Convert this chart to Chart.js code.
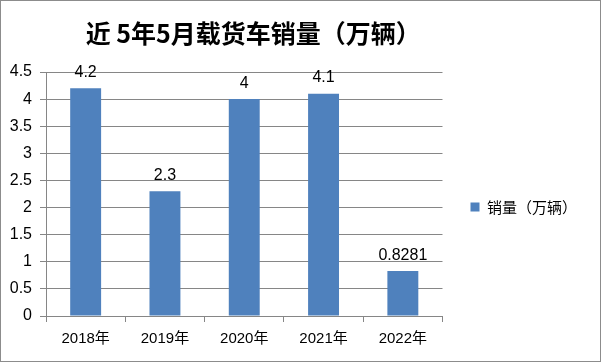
<!DOCTYPE html>
<html>
<head>
<meta charset="utf-8">
<script src="https://cdn.jsdelivr.net/npm/chart.js@4"></script>
<style>
    body { margin: 0; background: #fff; }
    #wrapper { width: 601px; height: 362px; box-sizing: border-box; border: 1px solid #8c8c8c; }
</style>
</head>
<body>
<div id="wrapper"><canvas id="chart" width="599" height="360"></canvas></div>
<script>
const years = ['2018年', '2019年', '2020年', '2021年', '2022年'];
const sales = [4.2, 2.3, 4, 4.1, 0.8281];
const seriesName = '销量（万辆）';
const titleText = '近 5年5月载货车销量（万辆）';

const latinFont = "'Liberation Sans', 'Noto Sans CJK SC', sans-serif";
const cjkFont = "'Noto Sans CJK SC', sans-serif";
const gridColor = '#868686';

// value labels above each bar
const valueLabels = {
    id: 'valueLabels',
    afterDatasetsDraw(chart) {
        const ctx = chart.ctx;
        const meta = chart.getDatasetMeta(0);
        ctx.save();
        ctx.font = '16px ' + latinFont;
        ctx.fillStyle = '#000';
        ctx.textAlign = 'center';
        ctx.textBaseline = 'middle';
        meta.data.forEach((bar, i) => {
            ctx.fillText(String(sales[i]), bar.x, bar.y - 16);
        });
        ctx.restore();
    }
};

// nudge title and legend to where the reference has them
const nudge = {
    id: 'nudge',
    afterLayout(chart) {
        chart.titleBlock.left += 9;
        chart.titleBlock.right += 9;
        chart.legend.top += 26;
        chart.legend.bottom += 26;
    }
};

new Chart(document.getElementById('chart'), {
    type: 'bar',
    data: {
        labels: years,
        datasets: [{
            label: seriesName,
            data: sales,
            backgroundColor: '#4F81BD',
            barPercentage: 0.39,
            categoryPercentage: 1
        }]
    },
    options: {
        responsive: false,
        animation: false,
        layout: { padding: { right: 13 } },
        plugins: {
            title: {
                display: true,
                text: titleText,
                fullSize: false,
                color: '#000',
                font: { family: cjkFont, size: 25, weight: 'bold', lineHeight: 1.2 },
                padding: { top: 17, bottom: 24 }
            },
            legend: {
                position: 'right',
                labels: {
                    color: '#000',
                    font: { family: cjkFont, size: 15 },
                    boxWidth: 9,
                    boxHeight: 9,
                    padding: 28
                }
            },
            tooltip: { enabled: false }
        },
        scales: {
            x: {
                grid: { display: true, drawOnChartArea: false, drawTicks: true, tickLength: 6, color: gridColor, offset: true },
                border: { display: true, color: gridColor },
                ticks: { color: '#000', font: { family: latinFont, size: 15 }, padding: 8 },
                afterFit(scale) { scale.height = 45; }
            },
            y: {
                min: 0,
                max: 4.5,
                ticks: {
                    stepSize: 0.5,
                    color: '#000',
                    font: { family: latinFont, size: 16 },
                    padding: 8,
                    callback: v => String(v)
                },
                grid: { color: gridColor, tickLength: 6 },
                border: { display: true, color: gridColor },
                afterFit(scale) { scale.width = 45; }
            }
        }
    },
    plugins: [valueLabels, nudge]
});
</script>
</body>
</html>
